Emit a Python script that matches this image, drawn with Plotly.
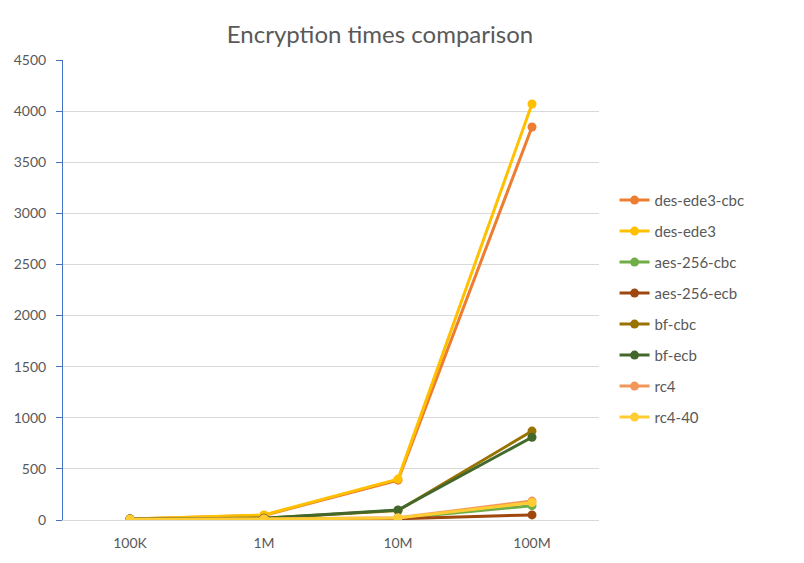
import plotly.graph_objects as go

categories = ["100K", "1M", "10M", "100M"]
series_names = ["des-ede3-cbc", "des-ede3", "aes-256-cbc", "aes-256-ecb",
                "bf-cbc", "bf-ecb", "rc4", "rc4-40"]
des_ede3_cbc = [10, 45, 390, 3845]
des_ede3 = [10, 50, 400, 4070]
aes_256_cbc = [8, 10, 18, 140]
aes_256_ecb = [8, 8, 12, 50]
bf_cbc = [10, 18, 92, 870]
bf_ecb = [10, 18, 98, 810]
rc4 = [8, 10, 22, 185]
rc4_40 = [8, 10, 20, 170]

series_values = [des_ede3_cbc, des_ede3, aes_256_cbc, aes_256_ecb,
                 bf_cbc, bf_ecb, rc4, rc4_40]
colors = ["#ED7D31", "#FFC000", "#70AD47", "#9E480E",
          "#997300", "#43682B", "#F1975A", "#FFCD33"]

fig = go.Figure()
for name, vals, col in zip(series_names, series_values, colors):
    fig.add_trace(go.Scatter(
        x=categories, y=vals, name=name, mode="lines+markers",
        line=dict(color=col, width=3),
        marker=dict(color=col, size=9),
        legendgroup=name,
    ))

fig.update_layout(
    width=804, height=563,
    margin=dict(l=55, r=213, t=52, b=51),
    paper_bgcolor="white", plot_bgcolor="white",
    font=dict(family="Lato", color="#595959", size=13),
    title=dict(text="Encryption times comparison", x=372 / 804, xanchor="center",
               y=1 - 27 / 563, yanchor="middle", yref="container",
               font=dict(size=24, color="#595959", family="Lato")),
    xaxis=dict(type="category", range=[-0.5, 3.5], showgrid=False,
               showline=True, linecolor="#D9D9D9", linewidth=1,
               ticks="", ticklabelstandoff=10, automargin=False,
               tickfont=dict(size=14, color="#595959")),
    yaxis=dict(range=[0, 4500], dtick=500, showgrid=True, gridcolor="#D9D9D9",
               gridwidth=1, showline=True, linecolor="#4472C4", linewidth=1,
               ticks="outside", ticklen=6, tickcolor="#4472C4",
               ticklabelstandoff=7, automargin=False,
               zeroline=False, tickfont=dict(size=14, color="#595959")),
    legend=dict(x=1.029, xanchor="left", y=0.459, yanchor="middle",
                font=dict(size=15, color="#595959"), tracegroupgap=8.5,
                bgcolor="rgba(0,0,0,0)"),
)

fig.write_html("out.html")
